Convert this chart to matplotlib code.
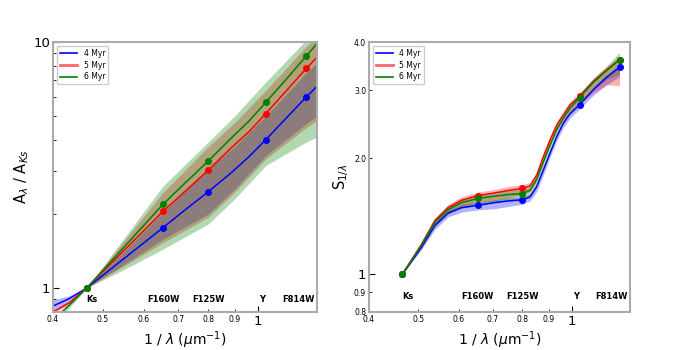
import matplotlib
matplotlib.use("Agg")
import matplotlib.pyplot as plt
from matplotlib.lines import Line2D
from matplotlib.ticker import FixedLocator, FormatStrFormatter, NullFormatter
import matplotlib.transforms as mtransforms


# filters (1/lambda, um^-1)
filters = ["Ks", "F160W", "F125W", "Y", "F814W"]
filter_x = [0.465, 0.654, 0.80, 1.035, 1.24]
label_x = [0.476, 0.654, 0.80, 1.019, 1.196]
ages = ["4 Myr", "5 Myr", "6 Myr"]

# left panel: A_lambda / A_Ks
ext_x = [0.40, 0.43, 0.465, 0.55, 0.654, 0.72, 0.80, 0.89, 0.96, 1.035, 1.13, 1.24, 1.30]
ext_4 = [0.845, 0.905, 1.0, 1.32, 1.76, 2.07, 2.46, 2.96, 3.42, 4.01, 4.87, 5.98, 6.6]
ext_5 = [0.80, 0.87, 1.0, 1.425, 2.05, 2.46, 3.01, 3.74, 4.32, 5.12, 6.28, 7.81, 8.66]
ext_6 = [0.74, 0.85, 1.0, 1.47, 2.19, 2.66, 3.28, 4.10, 4.77, 5.69, 7.0, 8.77, 9.85]
ext_pts_4 = [1.0, 1.76, 2.46, 4.01, 5.98]
ext_pts_5 = [1.0, 2.05, 3.01, 5.12, 7.81]
ext_pts_6 = [1.0, 2.19, 3.28, 5.69, 8.77]

ext_band_x = [0.40, 0.43, 0.465, 0.55, 0.654, 0.80, 0.90, 1.035, 1.24, 1.30]
ext_lo_4 = [0.82, 0.88, 1.0, 1.25, 1.58, 2.0, 2.52, 3.46, 4.66, 4.99]
ext_hi_4 = [0.895, 0.93, 1.0, 1.41, 2.03, 3.05, 3.75, 5.0, 7.5, 8.2]
ext_lo_5 = [0.79, 0.855, 1.0, 1.23, 1.53, 1.94, 2.45, 3.35, 4.49, 4.80]
ext_hi_5 = [0.82, 0.885, 1.0, 1.56, 2.45, 3.75, 4.7, 6.36, 9.6, 10.5]
ext_lo_6 = [0.72, 0.83, 1.0, 1.19, 1.44, 1.82, 2.3, 3.15, 3.92, 4.11]
ext_hi_6 = [0.76, 0.865, 1.0, 1.60, 2.6, 3.92, 5.0, 6.88, 10.2, 11.5]

# right panel: S_1/lambda
s_x = [0.465, 0.507, 0.539, 0.572, 0.608, 0.654, 0.706, 0.75, 0.80, 0.828,
       0.853, 0.879, 0.906, 0.934, 0.962, 0.991, 1.035, 1.101, 1.17, 1.24]
s_4 = [1.0, 1.177, 1.341, 1.443, 1.489, 1.51, 1.535, 1.55, 1.56, 1.588,
       1.686, 1.862, 2.06, 2.274, 2.462, 2.604, 2.75, 3.005, 3.24, 3.44]
s_5 = [1.0, 1.196, 1.38, 1.49, 1.556, 1.60, 1.626, 1.65, 1.67, 1.696,
       1.807, 2.017, 2.229, 2.438, 2.588, 2.748, 2.89, 3.158, 3.388, 3.60]
s_6 = [1.0, 1.19, 1.367, 1.472, 1.535, 1.573, 1.595, 1.61, 1.62, 1.652,
       1.762, 1.957, 2.163, 2.376, 2.538, 2.693, 2.871, 3.14, 3.373, 3.60]
s_lo_4 = [1.0, 1.16, 1.31, 1.41, 1.45, 1.47, 1.48, 1.50, 1.52, 1.55,
          1.64, 1.81, 2.01, 2.22, 2.40, 2.54, 2.68, 2.91, 3.10, 3.25]
s_hi_4 = [1.0, 1.19, 1.36, 1.47, 1.52, 1.54, 1.56, 1.58, 1.59, 1.62,
          1.72, 1.90, 2.10, 2.32, 2.51, 2.65, 2.80, 3.06, 3.30, 3.50]
s_lo_5 = [1.0, 1.17, 1.34, 1.44, 1.50, 1.54, 1.55, 1.58, 1.61, 1.64,
          1.75, 1.95, 2.16, 2.36, 2.50, 2.64, 2.75, 2.96, 3.10, 3.08]
s_hi_5 = [1.0, 1.21, 1.40, 1.52, 1.59, 1.635, 1.66, 1.69, 1.71, 1.73,
          1.84, 2.06, 2.28, 2.49, 2.64, 2.80, 2.95, 3.22, 3.45, 3.68]
s_lo_6 = [1.0, 1.17, 1.33, 1.43, 1.49, 1.52, 1.53, 1.55, 1.57, 1.60,
          1.71, 1.90, 2.10, 2.31, 2.47, 2.62, 2.79, 3.02, 3.20, 3.30]
s_hi_6 = [1.0, 1.20, 1.39, 1.50, 1.57, 1.61, 1.63, 1.65, 1.66, 1.69,
          1.80, 2.00, 2.21, 2.43, 2.59, 2.75, 2.94, 3.22, 3.47, 3.76]
s_pts_4 = [1.0, 1.51, 1.56, 2.75, 3.45]
s_pts_5 = [1.0, 1.60, 1.67, 2.89, 3.60]
s_pts_6 = [1.0, 1.573, 1.62, 2.871, 3.60]

colors = ["blue", "red", "green"]


def style_axes(ax, ylim, label_y):
    ax.set_xscale("log")
    ax.set_yscale("log")
    ax.set_xlim(0.4, 1.3)
    ax.set_ylim(*ylim)
    for sp in ax.spines.values():
        sp.set_color("#aaaaaa")
        sp.set_linewidth(1.5)
    ax.xaxis.set_minor_locator(FixedLocator([0.4, 0.5, 0.6, 0.7, 0.8, 0.9]))
    ax.xaxis.set_minor_formatter(FormatStrFormatter("%.1f"))
    ax.xaxis.set_major_formatter(FormatStrFormatter("%g"))
    ax.yaxis.set_major_formatter(FormatStrFormatter("%g"))
    ax.tick_params(which="both", direction="in", pad=2)
    ax.tick_params(which="major", labelsize=9.5, length=4)
    ax.tick_params(which="minor", labelsize=5.5, length=2.5)
    ax.set_xlabel(r"1 / $\lambda$ ($\mu$m$^{-1}$)", fontsize=10, labelpad=1)
    trans = mtransforms.blended_transform_factory(ax.transData, ax.transAxes)
    for name, lx in zip(filters, label_x):
        ax.text(lx, label_y, name, transform=trans, ha="center", va="bottom",
                fontsize=6, fontweight="bold")
    handles = [Line2D([], [], color="blue", lw=1.2),
               Line2D([], [], color="red", lw=2, alpha=0.6),
               Line2D([], [], color="green", lw=1.2)]
    ax.legend(handles, ages, loc="upper left", fontsize=5.5,
              handlelength=2.3, borderpad=0.4, labelspacing=0.35,
              framealpha=1, edgecolor="#cccccc")


fig = plt.figure(figsize=(7, 3.5), dpi=100)
ax1 = fig.add_axes([0.0757, 0.109, 0.377, 0.771])
ax2 = fig.add_axes([0.527, 0.109, 0.373, 0.771])

# left
for lo, hi, c in zip([ext_lo_4, ext_lo_5, ext_lo_6], [ext_hi_4, ext_hi_5, ext_hi_6], colors):
    ax1.fill_between(ext_band_x, lo, hi, color=c, alpha=0.3, lw=0)
for ys, pts, c in zip([ext_4, ext_5, ext_6], [ext_pts_4, ext_pts_5, ext_pts_6], colors):
    ax1.plot(ext_x, ys, color=c, lw=1.1)
    ax1.plot(filter_x, pts, "o", color=c, ms=4)
style_axes(ax1, (0.8, 10), 0.03)
ax1.yaxis.set_minor_formatter(NullFormatter())
ax1.set_ylabel(r"A$_\lambda$ / A$_{Ks}$", fontsize=10.5, labelpad=2)

# right
for lo, hi, c in zip([s_lo_4, s_lo_5, s_lo_6], [s_hi_4, s_hi_5, s_hi_6], colors):
    ax2.fill_between(s_x, lo, hi, color=c, alpha=0.3, lw=0)
for ys, pts, c in zip([s_4, s_5, s_6], [s_pts_4, s_pts_5, s_pts_6], colors):
    ax2.plot(s_x, ys, color=c, lw=1.1)
    ax2.plot(filter_x, pts, "o", color=c, ms=4)
style_axes(ax2, (0.8, 4.0), 0.04)
ax2.yaxis.set_major_locator(FixedLocator([1]))
ax2.yaxis.set_minor_locator(FixedLocator([0.8, 0.9, 2.0, 3.0, 4.0]))
ax2.yaxis.set_minor_formatter(FormatStrFormatter("%.1f"))
ax2.set_ylabel(r"S$_{1/\lambda}$", fontsize=10.5, labelpad=2)

fig.savefig("out.png", dpi=100)
